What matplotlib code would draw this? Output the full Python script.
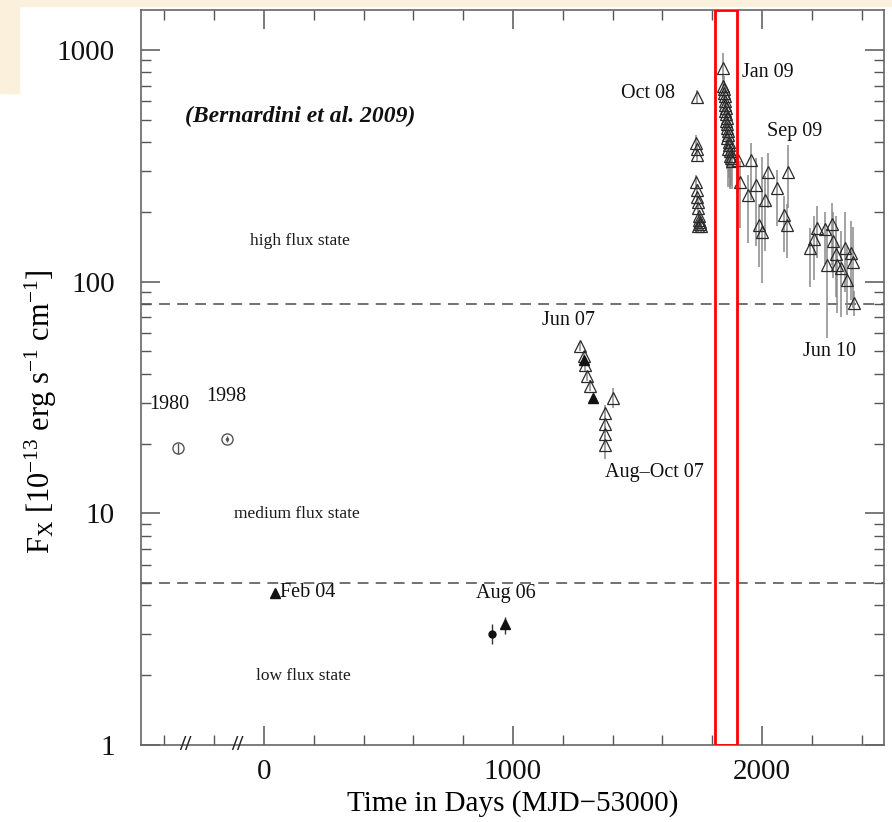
import matplotlib
matplotlib.use("Agg")
import matplotlib.pyplot as plt
from matplotlib.patches import Rectangle
from matplotlib.ticker import FixedLocator, LogLocator, NullFormatter

plt.rcParams['font.family'] = ['Liberation Serif', 'DejaVu Serif']
plt.rcParams['mathtext.fontset'] = 'custom'
plt.rcParams['mathtext.rm'] = 'Liberation Serif'
plt.rcParams['mathtext.it'] = 'Liberation Serif:italic'

# historical points (Einstein 1980, BeppoSAX 1998)
hist_x = [-345, -149]
hist_y = [19.1, 21.0]
hist_err = [1.0, 0.6]

# low state detections
low_tri_x = [44, 968]
low_tri_y = [4.52, 3.33]
low_tri_lo = [0.2, 0.33]
low_tri_hi = [0.2, 0.23]
low_dot_x = [916]
low_dot_y = [3.0]
low_dot_lo = [0.28]
low_dot_hi = [0.33]

# Jun 07 - Aug/Oct 07 monitoring
jun07_x = [1269, 1285, 1289, 1297, 1309, 1402, 1369, 1369, 1369, 1369]
jun07_y = [52.5, 47.5, 43.5, 39.3, 35.6, 31.6, 27.2, 24.2, 21.9, 19.8]
jun07_lo = [2.5, 2.5, 2.2, 2.0, 2.0, 3.0, 2.0, 2.0, 2.0, 2.7]
jun07_hi = [2.5, 2.5, 2.2, 2.0, 2.0, 3.0, 2.0, 2.0, 2.0, 2.0]
jun07_fill_x = [1285, 1321]
jun07_fill_y = [46.0, 31.3]

# Oct 08 outburst
oct08_x = [1739, 1735, 1737, 1739, 1735, 1737, 1739, 1741, 1743, 1747, 1749, 1751, 1745, 1753, 1755]
oct08_y = [627, 397, 372, 352, 270, 249, 232, 221, 208, 191, 185, 180, 173, 178, 174]
oct08_err = [45, 30, 28, 25, 18, 16, 15, 14, 13, 12, 12, 11, 11, 11, 11]

# Jan 09 peak and decay
jan09_x = [1843, 1845, 1847, 1849, 1851, 1850, 1853, 1855, 1852, 1857, 1859, 1856,
           1861, 1858, 1863, 1865, 1860, 1867, 1869, 1864, 1871, 1873, 1875, 1878]
jan09_y = [836, 700, 680, 650, 630, 600, 580, 560, 545, 530, 510, 495,
           480, 460, 445, 430, 415, 400, 390, 375, 365, 350, 340, 330]
jan09_lo = [90, 80, 90, 80, 90, 90, 100, 90, 100, 90, 100, 100,
            110, 100, 110, 100, 110, 120, 110, 120, 110, 100, 80, 80]
jan09_hi = [130, 90, 90, 80, 80, 70, 70, 60, 60, 60, 60, 50,
            50, 50, 50, 50, 40, 40, 40, 40, 40, 40, 40, 40]

sep09_x = [1904, 1912, 1956, 1944, 1976, 2024, 2012, 2060, 2104, 1988, 2000, 2088, 2100]
sep09_y = [336, 270, 336, 237, 262, 298, 225, 254, 298, 176, 164, 194, 176]
sep09_lo = [90, 100, 110, 90, 120, 90, 90, 80, 90, 60, 65, 60, 50]
sep09_hi = [70, 60, 60, 50, 80, 60, 60, 50, 90, 40, 180, 40, 40]

# Jun 10 decline
jun10_x = [2193, 2209, 2221, 2253, 2281, 2285, 2261, 2297, 2301, 2317, 2333, 2341, 2357, 2365, 2369]
jun10_y = [140, 152, 171, 169, 178, 149, 118, 131, 118, 115, 140, 102, 133, 122, 81]
jun10_lo = [45, 50, 45, 50, 60, 45, 61, 45, 45, 45, 50, 30, 50, 45, 10]
jun10_hi = [30, 40, 40, 30, 40, 50, 50, 60, 30, 50, 60, 40, 50, 50, 10]

state_limits = [80, 5]
red_box = [1812, 1900]

xticks_major = [0, 1000, 2000]
xticks_minor = [-400, -200, 200, 400, 600, 800, 1200, 1400, 1600, 1800, 2200, 2400]
yticks = [1, 10, 100, 1000]
ytick_labels = ['1', '10', '100', '1000']

fig = plt.figure(figsize=(8.92, 8.22), dpi=100)
fig.patches.append(Rectangle((0, 1 - 6 / 822), 1, 6 / 822, transform=fig.transFigure,
                             color='#fbf0dc', zorder=-5))
fig.patches.append(Rectangle((0, 1 - 93 / 822), 19 / 892, 93 / 822, transform=fig.transFigure,
                             color='#fbf0dc', zorder=-5))
ax = fig.add_axes([141 / 892, 77 / 822, 743 / 892, 735 / 822])
ax.set_yscale('log')
ax.set_xlim(-494, 2490)
ax.set_ylim(1, 1486)

tri = dict(fmt='^', mfc='none', mec='#2a2a2a', mew=0.9, ms=8.5,
           ecolor='#8a8a8a', elinewidth=1.1, capsize=0, zorder=3)

ax.errorbar(jun07_x, jun07_y, yerr=[jun07_lo, jun07_hi], **tri)
ax.errorbar(oct08_x, oct08_y, yerr=oct08_err, **tri)
ax.errorbar(jan09_x, jan09_y, yerr=[jan09_lo, jan09_hi], **tri)
ax.errorbar(sep09_x, sep09_y, yerr=[sep09_lo, sep09_hi], **tri)
ax.errorbar(jun10_x, jun10_y, yerr=[jun10_lo, jun10_hi], **tri)

ax.plot(jun07_fill_x, jun07_fill_y, '^', color='#111111', ms=7, zorder=4)
ax.errorbar(low_tri_x, low_tri_y, yerr=[low_tri_lo, low_tri_hi], fmt='^', color='#111111',
            ms=7, ecolor='#333333', elinewidth=1, capsize=0, zorder=4)
ax.errorbar(low_dot_x, low_dot_y, yerr=[low_dot_lo, low_dot_hi], fmt='o', color='#111111',
            ms=5, ecolor='#333333', elinewidth=1, capsize=0, zorder=4)

ax.errorbar(hist_x, hist_y, yerr=hist_err, fmt='o', mfc='none', mec='#555555', mew=1,
            ms=8, ecolor='#555555', elinewidth=1, capsize=0, zorder=4)
ax.plot(hist_x[1:], hist_y[1:], '.', color='#555555', ms=3, zorder=5)

for lim in state_limits:
    ax.axhline(lim, color='#666666', lw=1.3, ls=(0, (6, 4)), zorder=1)

ax.axvspan(red_box[0], red_box[1], fill=False, edgecolor='#ff0000', lw=2, zorder=6)

txt = dict(fontsize=14.5, color='#111111')
ax.text(-317, 514, '(Bernardini et al. 2009)', fontsize=17, style='italic',
        weight='bold', va='center', ha='left', color='#111111')
ax.text(145, 149, 'high flux state', ha='center', va='center', fontsize=12.5, color='#1a1a1a')
ax.text(133, 9.9, 'medium flux state', ha='center', va='center', fontsize=12.5, color='#1a1a1a')
ax.text(157, 1.98, 'low flux state', ha='center', va='center', fontsize=12.5, color='#1a1a1a')
ax.text(-382, 29.5, '1980', ha='center', va='center', **txt)
ax.text(-153, 31.9, '1998', ha='center', va='center', **txt)
ax.text(64, 4.57, 'Feb 04', ha='left', va='center', **txt)
ax.text(972, 4.5, 'Aug 06', ha='center', va='center', **txt)
ax.text(1221, 68, 'Jun 07', ha='center', va='center', **txt)
ax.text(1570, 15.0, 'Aug\u2013Oct 07', ha='center', va='center', **txt)
ax.text(1542, 646, 'Oct 08', ha='center', va='center', **txt)
ax.text(1920, 796, 'Jan 09', ha='left', va='center', **txt)
ax.text(2133, 443, 'Sep 09', ha='center', va='center', **txt)
ax.text(2273, 50, 'Jun 10', ha='center', va='center', **txt)

# axis break marks
for xb in [-317, -108]:
    ax.text(xb, 1.0, '//', ha='center', va='center', fontsize=16, weight='bold',
            color='#222222', zorder=7, clip_on=False)

ax.set_xticks(xticks_major)
ax.xaxis.set_minor_locator(FixedLocator(xticks_minor))
ax.set_yticks(yticks)
ax.set_yticklabels(ytick_labels)
ax.yaxis.set_minor_locator(LogLocator(base=10, subs=range(2, 10)))
ax.yaxis.set_minor_formatter(NullFormatter())

ax.tick_params(which='both', direction='in', top=True, right=True, colors='#555555',
               labelcolor='#111111', labelsize=21)
ax.tick_params(which='major', length=14, width=1.1, pad=10)
ax.tick_params(which='minor', length=7, width=1)
ax.tick_params(axis='y', which='major', pad=19)
for sp in ax.spines.values():
    sp.set_color('#666666')
    sp.set_linewidth(1.2)

ax.set_xlabel('Time in Days (MJD\u221253000)', fontsize=21, labelpad=4)
ax.set_ylabel(r'F$_{\mathrm{X}}$ [10$^{-13}$ erg s$^{-1}$ cm$^{-1}$]', fontsize=22)
ax.yaxis.set_label_coords(-0.11, 0.453)

fig.savefig('out.png', dpi=100)
